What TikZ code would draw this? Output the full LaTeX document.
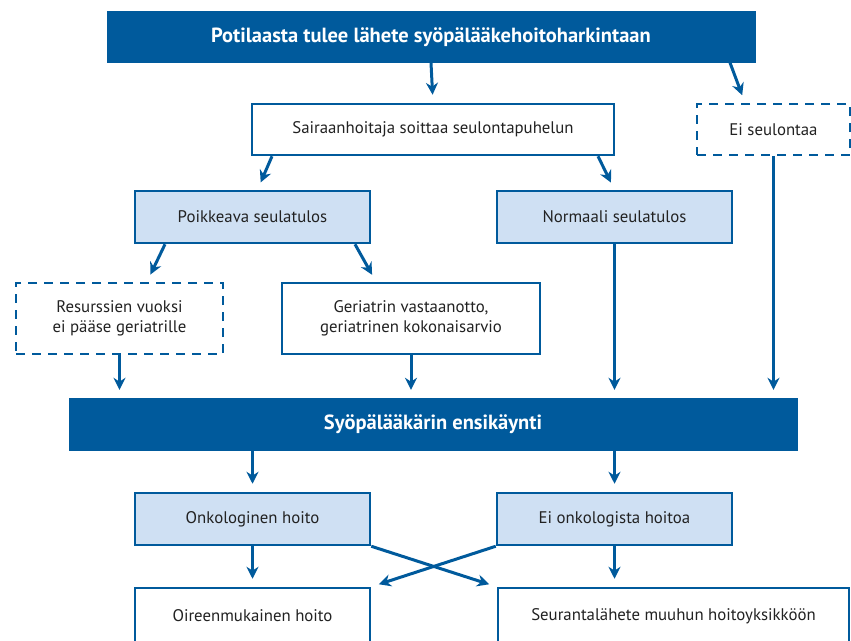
\documentclass[tikz,border=0pt]{standalone}
\usepackage{fontspec}
\setmainfont{PT Sans}
\usetikzlibrary{arrows.meta}
\definecolor{dblue}{HTML}{005A9C}
\definecolor{lblue}{HTML}{CFE0F3}
\definecolor{txt}{HTML}{222222}
\tikzset{block/.style = {draw=dblue, fill=white, line width=2.5pt, rectangle, text=txt, font=\fontsize{16.8}{20}\selectfont, align=center, minimum height=51pt},
         lblock/.style={block, fill=lblue, minimum width=235pt, minimum height=52pt},
         dblock/.style={draw=dblue, fill=dblue, rectangle, text=white, font=\fontsize{20.5}{24}\selectfont\bfseries, minimum height=51pt},
         dashblock/.style={block, dash pattern=on 9pt off 7pt},
         arr/.style={-{Stealth[length=12pt,width=12pt]}, draw=dblue, line width=3pt, shorten >=8pt}}

\begin{document}
\begin{tikzpicture}[x=1pt,y=-1pt]
        \useasboundingbox (0,0) rectangle (851,640);
        \node[dblock, minimum width=648pt](top)at(431,37){Potilaasta tulee lähete syöpälääkehoitoharkintaan};
        \node[block, minimum width=362pt](soitto)at(433,129.5){Sairaanhoitaja soittaa seulontapuhelun};
        \node[dashblock, minimum width=153pt](eiseul)at(773.5,129.5){Ei seulontaa};

        \node[lblock](poik)at(252.5,217){Poikkeava seulatulos};
        \node[lblock](norm)at(614.5,217){Normaali seulatulos};

        \node[dashblock, minimum width=207pt, minimum height=71pt](resu)at(119.5,318.5){Resurssien vuoksi\\ei pääse geriatrille};
        \node[block, minimum width=258pt, minimum height=71pt](geri)at(411,318.5){Geriatrin vastaanotto,\\geriatrinen kokonaisarvio};

        \node[dblock, minimum width=728pt, minimum height=52pt](ensi)at(433,424){Syöpälääkärin ensikäynti};

        \node[lblock](onko)at(252.5,519){Onkologinen hoito};
        \node[lblock](eionko)at(614.5,519){Ei onkologista hoitoa};
        \node[block, minimum width=235pt, minimum height=56pt](oire)at(252.5,616){Oireenmukainen hoito};
        \node[block, minimum width=351pt, minimum height=56pt](seur)at(673.5,616){Seurantalähete muuhun hoitoyksikköön};

        \draw[arr](top.south)--(soitto.north);
        \draw[arr]([xshift=299pt]top.south)--([xshift=-28.5pt]eiseul.north);
        \draw[arr]([xshift=-161pt]soitto.south)--([xshift=5pt]poik.north);
        \draw[arr]([xshift=165pt]soitto.south)--(norm.north);
        \draw[arr]([xshift=-87.5pt]poik.south)--([xshift=27.5pt]resu.north);
        \draw[arr]([xshift=102.5pt]poik.south)--([xshift=-35pt]geri.north);

        \draw[arr](resu.south)--(resu.south|-ensi.north);
        \draw[arr](geri.south)--(geri.south|-ensi.north);
        \draw[arr](norm.south)--(norm.south|-ensi.north);
        \draw[arr](eiseul.south)--(eiseul.south|-ensi.north);

        \draw[arr](onko.north|-ensi.south)--(onko.north);
        \draw[arr](eionko.north|-ensi.south)--(eionko.north);
        \draw[arr](onko.south)--(oire.north);
        \draw[arr](eionko.south)--(eionko.south|-seur.north);
        \draw[arr](onko.south east)--(seur.north west);
        \draw[arr](eionko.south west)--(oire.north east);
    \end{tikzpicture}
\end{document}
